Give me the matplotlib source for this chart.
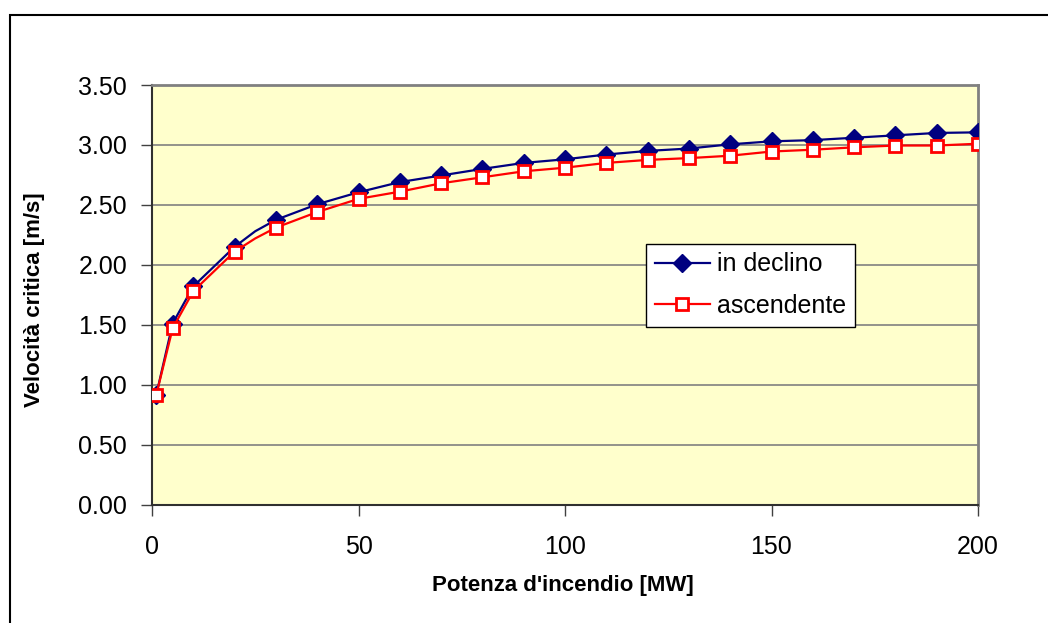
import matplotlib
matplotlib.use("Agg")
import matplotlib.pyplot as plt
from matplotlib.patches import Rectangle

# Fire power [MW] and critical velocity [m/s]
potenza = [1, 5, 10, 20, 25, 30, 40, 50, 60, 70, 80, 90, 100, 110, 120,
           130, 140, 150, 160, 170, 180, 190, 200]
in_declino = [0.91, 1.51, 1.82, 2.15, 2.28, 2.375, 2.505, 2.605, 2.69, 2.745,
              2.80, 2.85, 2.88, 2.92, 2.95, 2.97, 3.005, 3.03, 3.04, 3.06,
              3.08, 3.10, 3.105]
ascendente = [0.91, 1.47, 1.78, 2.11, 2.22, 2.31, 2.44, 2.55, 2.61, 2.68,
              2.73, 2.78, 2.81, 2.85, 2.875, 2.89, 2.91, 2.945, 2.96, 2.98,
              2.995, 2.995, 3.01]
# the 25 MW point is part of the curve but carries no marker
marker_idx = [i for i, p in enumerate(potenza) if p != 25]

x_ticks = [0, 50, 100, 150, 200]
y_ticks = [0.0, 0.5, 1.0, 1.5, 2.0, 2.5, 3.0, 3.5]

plt.rcParams['font.family'] = ['Liberation Sans', 'DejaVu Sans']

fig = plt.figure(figsize=(10.48, 6.23), dpi=100)
ax = fig.add_axes([152 / 1048, 1 - 504.5 / 623, 826 / 1048, 419.5 / 623])
ax.set_facecolor('#FFFFCC')

ax.plot(potenza, in_declino, color='#000080', lw=1.6, marker='D', ms=9,
        mfc='#000080', mec='#000080', markevery=marker_idx,
        label='in declino', zorder=3)
ax.plot(potenza, ascendente, color='#FF0000', lw=1.6, marker='s', ms=8.5,
        mfc='white', mec='#FF0000', mew=2, markevery=marker_idx,
        label='ascendente', zorder=4)

ax.set_xlim(0, 200)
ax.set_ylim(0, 3.5)
ax.set_xticks(x_ticks)
ax.set_yticks(y_ticks)
ax.set_yticklabels([f"{v:.2f}" for v in y_ticks])
ax.yaxis.grid(True, color='#808080', lw=1.2)
ax.set_axisbelow(True)

ax.tick_params(axis='both', direction='out', length=8, width=1,
               color='#404040', labelsize=18)
ax.tick_params(axis='y', pad=10)
ax.tick_params(axis='x', pad=14)

for side in ('top', 'right'):
    ax.spines[side].set_color('#808080')
    ax.spines[side].set_linewidth(2)
for side in ('left', 'bottom'):
    ax.spines[side].set_color('#303030')
    ax.spines[side].set_linewidth(1.5)

fig.text(563 / 1048, 1 - 585 / 623, "Potenza d'incendio [MW]",
         ha='center', va='center', fontsize=16, fontweight='bold')
fig.text(35 / 1048, 1 - 300 / 623, "Velocità critica [m/s]",
         ha='center', va='center', rotation=90, fontsize=16,
         fontweight='bold')

leg = ax.legend(loc='upper left', bbox_to_anchor=(0.598, 0.622),
                borderaxespad=0, fontsize=18, frameon=True, fancybox=False,
                edgecolor='black', facecolor='white', framealpha=1,
                handlelength=2.2, handletextpad=0.3, borderpad=0.35,
                labelspacing=0.7)
leg.get_frame().set_linewidth(1)

# outer chart frame
fig.patches.append(Rectangle((10 / 1048, -0.1), 1.2, 1 - 15 / 623 + 0.1,
                             transform=fig.transFigure, fill=False,
                             edgecolor='black', lw=1.5, clip_on=False))

fig.savefig('out.png', dpi=100)
